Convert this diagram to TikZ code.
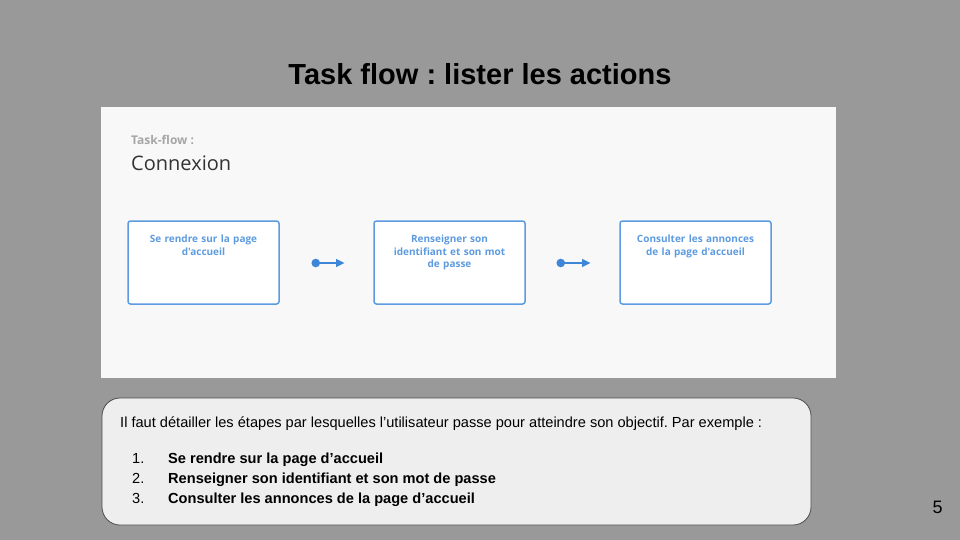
\documentclass[tikz,border=0pt]{standalone}
\usepackage{fontspec}
\setmainfont{Liberation Sans}
\newfontfamily\opensans{Open Sans}
\usetikzlibrary{arrows.meta,positioning}
\frenchspacing

\definecolor{slidegray}{HTML}{999999}
\definecolor{panelbg}{HTML}{F8F8F8}
\definecolor{flowblue}{HTML}{5D9BE0}
\definecolor{dotblue}{HTML}{3F86D9}
\definecolor{notebg}{HTML}{EEEEEE}

\tikzset{
  taskbox/.style={draw=flowblue, line width=1.5pt, fill=white, rounded corners=2.5pt,
    minimum width=151pt, minimum height=83pt, inner sep=0pt},
  tasklabel/.style={text=flowblue, font=\opensans\bfseries\fontsize{10}{12.6}\selectfont,
    text width=140pt, align=center, anchor=north, inner sep=0pt},
  flowarrow/.style={dotblue, line width=1.2pt, {Circle[length=8.5pt]}-{Triangle[length=8.5pt,width=8pt]}}
}

\begin{document}
\begin{tikzpicture}[x=1pt,y=-1pt]

% slide background
\fill[slidegray] (0,0) rectangle (960,540);
\useasboundingbox (0,0) rectangle (960,540);

\node[font=\bfseries\fontsize{29}{33}\selectfont] (title) at (480,74) {Task flow : lister les actions};

% screenshot of the task flow
\fill[panelbg] (101,107) rectangle (836,378);
\node[anchor=base west, text=black!35, font=\opensans\bfseries\fontsize{12}{14}\selectfont, inner sep=0pt]
  (kicker) at (131,145) {Task-flow :};
\node[anchor=base west, text=black!80, font=\opensans\fontsize{20}{23}\selectfont, inner sep=0pt]
  (heading) at (131,171) {Connexion};

\node[taskbox] (t1) at (203.5,262.5) {};
\node[taskbox] (t2) at (449.5,262.5) {};
\node[taskbox] (t3) at (695.5,262.5) {};

\node[tasklabel] (l1) at ([yshift=-14.5pt]t1.north) {Se rendre sur la page\\d'accueil};
\node[tasklabel] (l2) at ([yshift=-14.5pt]t2.north) {Renseigner son\\identifiant et son mot\\de passe};
\node[tasklabel] (l3) at ([yshift=-14.5pt]t3.north) {Consulter les annonces\\de la page d'accueil};

\coordinate (a1s) at (311.5,263);
\coordinate (a1e) at (344.5,263);
\coordinate (a2s) at (556.5,263);
\coordinate (a2e) at (590.5,263);
\draw[flowarrow] (a1s) -- (a1e);
\draw[flowarrow] (a2s) -- (a2e);

% note box
\draw[black!70, fill=notebg, line width=0.8pt, rounded corners=18pt] (102,398) rectangle (811,525);
\node[anchor=base west, inner sep=0pt, font=\fontsize{14.6}{17}\selectfont] (intro) at (120,427)
  {Il faut détailler les étapes par lesquelles l'utilisateur passe pour atteindre son objectif. Par exemple :};

\foreach \n/\txt [count=\i] in {1/Se rendre sur la page d'accueil,
                                2/Renseigner son identifiant et son mot de passe,
                                3/Consulter les annonces de la page d'accueil}{
  \node[anchor=base west, inner sep=0pt, font=\fontsize{14.6}{17}\selectfont] (num\i) at (132,443+20*\i) {\n.};
  \node[anchor=base west, inner sep=0pt, font=\bfseries\fontsize{14.6}{17}\selectfont] (item\i) at (168,443+20*\i) {\txt};
}

\node[anchor=base, inner sep=0pt, font=\fontsize{18}{20}\selectfont] (pagenum) at (937.5,513) {5};

\end{tikzpicture}
\end{document}
